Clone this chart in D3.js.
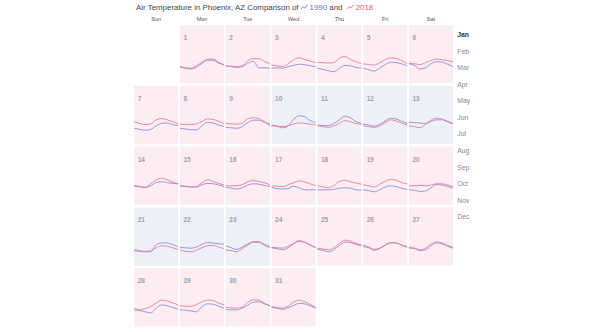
<!DOCTYPE html>
<html>
<head>
<meta charset="utf-8">
<script src="https://cdn.jsdelivr.net/npm/d3@7"></script>
<style>
  body { margin: 0; background: #fff; }
  text { font-family: "Liberation Sans", Arial, sans-serif; }
</style>
</head>
<body>
<div class="chart"></div>
<script>
// hourly samples (every 3 h) for each January day, degrees F
let hours = [0, 3, 6, 9, 12, 15, 18, 21, 24];
let weekdays = ['Sun', 'Mon', 'Tue', 'Wed', 'Thu', 'Fri', 'Sat'];
let months = ['Jan', 'Feb', 'Mar', 'Apr', 'May', 'Jun', 'Jul', 'Aug', 'Sep', 'Oct', 'Nov', 'Dec'];
let years = ['1990', '2018'];

let temps1990 = [
	[51,47,45,50,59,67,67,60,55], [53,51,49,51,59,64,48,48,47], [47,48,47,51,54,57,56,53,51],
	[47,44,41,38,47,54,53,49,47], [47,43,40,47,56,62,61,58,53], [58,54,45,48,58,63,62,57,51],
	[49,46,44,46,55,61,62,58,55], [49,47,45,45,55,64,62,57,53], [51,50,49,53,63,69,69,64,59],
	[57,54,50,55,71,80,78,68,63], [57,56,55,61,70,79,75,66,61], [59,57,54,59,67,74,72,66,61],
	[64,63,62,60,66,70,70,65,60], [57,55,53,57,65,67,65,63,62], [57,55,54,54,60,63,62,59,55],
	[53,51,49,52,59,62,61,58,55], [53,50,49,50,56,52,47,47,47], [47,47,47,48,51,52,51,47,46],
	[47,45,42,47,54,57,55,51,48], [47,46,43,44,52,60,59,55,51], [47,45,44,44,62,66,66,62,57],
	[55,54,53,56,63,67,66,64,63], [59,54,50,56,64,69,69,63,57], [54,52,49,54,64,70,68,61,54],
	[50,48,44,49,60,68,67,63,59], [57,54,48,52,61,67,66,61,57], [54,52,47,49,59,66,64,58,53],
	[51,49,46,43,55,63,61,57,52], [51,50,48,46,59,66,65,60,55], [52,51,51,55,63,70,71,66,61],
	[57,55,52,56,62,67,66,61,55]
];

let temps2018 = [
	[51,48,47,53,62,69,70,62,56], [53,52,51,53,66,71,71,64,58], [55,53,51,58,68,73,69,65,61],
	[61,61,60,61,72,76,69,63,59], [58,56,55,61,68,73,71,66,59], [59,58,56,61,66,70,68,66,63],
	[65,61,58,60,70,73,70,65,60], [59,58,58,60,66,72,71,66,61], [61,60,59,61,73,75,73,65,55],
	[55,54,53,55,60,62,61,59,57], [55,53,51,55,61,68,65,61,59], [55,53,51,55,63,70,67,61,57],
	[55,53,50,59,69,74,72,66,60], [57,55,53,62,72,76,72,66,61], [57,56,54,55,65,72,68,63,59],
	[57,57,57,60,67,70,68,65,59], [57,56,55,59,65,69,67,62,57], [57,54,52,58,68,71,67,64,61],
	[59,57,54,61,68,73,71,65,62], [57,57,58,57,59,62,62,59,55], [49,47,45,47,54,59,58,54,50],
	[49,45,44,48,54,59,60,56,52], [49,47,44,52,61,68,68,60,54], [55,54,53,58,65,72,68,61,55],
	[53,51,49,54,65,73,71,65,61], [61,56,50,53,60,66,66,60,55], [54,53,49,53,63,69,66,60,55],
	[55,51,54,59,68,75,73,68,63], [61,60,60,64,71,75,74,68,63], [57,56,55,58,70,76,75,67,61],
	[59,56,55,60,70,75,71,65,57]
];

let colors = {'1990': '#7d83dc', '2018': '#f06a98'};
let textColors = {'1990': '#6670d0', '2018': '#ec5487'};
let cellFill = {'1990': '#eef0f8', '2018': '#fdecf2'};

let width = 604, height = 332;

let svg = d3.select('.chart')
	.append('svg')
	.attr('width', width)
	.attr('height', height);

// calendar grid
let colScale = d3.scaleBand()
	.domain(weekdays)
	.range([134.2, 453])
	.paddingInner(0.039);

let rowScale = d3.scaleBand()
	.domain([0, 1, 2, 3, 4])
	.range([25, 326.5])
	.paddingInner(0.041);

let cellW = colScale.bandwidth();
let cellH = rowScale.bandwidth();

let xScale = d3.scaleLinear()
	.domain([0, 24])
	.range([0, cellW]);

let yScale = d3.scaleLinear()
	.domain([30, 80])
	.range([50, 30]);

let line = d3.line()
	.x((d, i) => xScale(hours[i]))
	.y(d => yScale(d))
	.curve(d3.curveMonotoneX);

let days = d3.range(31).map(i => {
	let date = new Date(2018, 0, i + 1);
	let v1990 = temps1990[i], v2018 = temps2018[i];
	return {
		day: i + 1,
		col: weekdays[date.getDay()],
		row: d3.timeWeek.count(d3.timeMonth(date), date),
		v1990: v1990,
		v2018: v2018,
		warmer: d3.mean(v2018) >= d3.mean(v1990) ? '2018' : '1990'
	};
});

// weekday headers
svg.selectAll('.wd')
	.data(weekdays)
	.enter()
	.append('text')
	.attr('class', 'wd')
	.attr('x', d => colScale(d) + cellW / 2)
	.attr('y', 20.5)
	.attr('text-anchor', 'middle')
	.style('font-size', '5.5px')
	.style('fill', '#555')
	.text(d => d);

let cells = svg.selectAll('.cell')
	.data(days)
	.enter()
	.append('g')
	.attr('class', 'cell')
	.attr('transform', d => 'translate(' + colScale(d.col) + ', ' + rowScale(d.row) + ')');

cells.append('rect')
	.attr('width', cellW)
	.attr('height', cellH)
	.style('fill', d => cellFill[d.warmer]);

cells.append('text')
	.attr('x', 3.5)
	.attr('y', 15)
	.style('font-size', '6.5px')
	.style('font-weight', 'bold')
	.style('fill', '#a0a0a8')
	.text(d => d.day);

years.forEach(y => {
	cells.append('path')
		.attr('d', d => line(d['v' + y]))
		.style('fill', 'none')
		.style('stroke', colors[y])
		.style('stroke-width', 0.9)
		.style('stroke-opacity', 0.9);
});

// month list
let monthScale = d3.scalePoint()
	.domain(months)
	.range([35, 216.7]);

svg.selectAll('.month')
	.data(months)
	.enter()
	.append('text')
	.attr('class', 'month')
	.attr('x', 457.3)
	.attr('y', d => monthScale(d))
	.attr('dy', '0.35em')
	.style('font-size', '6.8px')
	.style('font-weight', d => d === 'Jan' ? 'bold' : 'normal')
	.style('fill', d => d === 'Jan' ? '#333' : '#888')
	.text(d => d);

// title with small line icons for each year
let title = svg.append('g').attr('transform', 'translate(136, 9.6)');
let cursor = 0;

function addText(str, color) {
	let t = title.append('text')
		.attr('x', cursor)
		.style('font-size', '7.9px')
		.style('white-space', 'pre')
		.style('fill', color)
		.text(str);
	cursor += t.node().getComputedTextLength();
}

function addIcon(color) {
	let icon = [[0, -0.5], [2, -3], [3.8, -1.5], [6.5, -5]];
	title.append('path')
		.attr('d', d3.line()(icon.map(p => [p[0] + cursor + 2.5, p[1]])))
		.style('fill', 'none')
		.style('stroke', color)
		.style('stroke-width', 0.9);
	cursor += 11;
}

addText('Air Temperature in Phoenix, AZ Comparison of', '#444');
addIcon(colors['1990']);
addText('1990', textColors['1990']);
addText(' and ', '#444');
addIcon(colors['2018']);
addText('2018', textColors['2018']);
</script>
</body>
</html>
